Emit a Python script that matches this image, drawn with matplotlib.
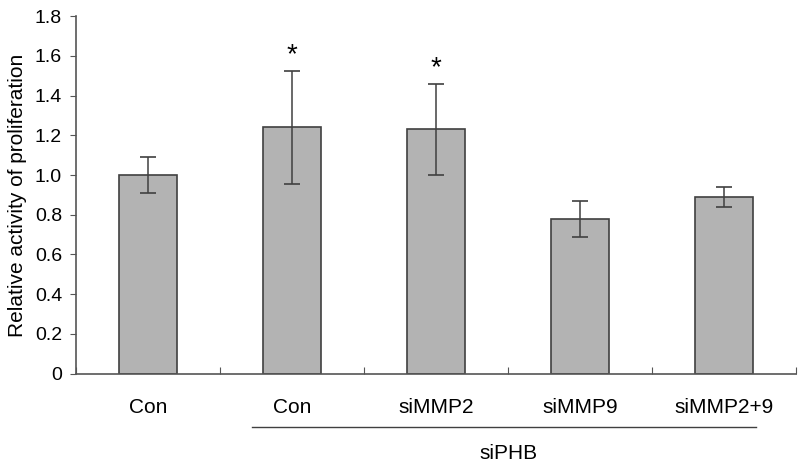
import matplotlib.pyplot as plt
import numpy as np

# data
labels = ['Con', 'Con', 'siMMP2', 'siMMP9', 'siMMP2+9']
values = [1.00, 1.24, 1.23, 0.78, 0.89]
errors = [0.09, 0.285, 0.23, 0.09, 0.05]
stars = ['', '*', '*', '', '']
group_label = 'siPHB'

plt.rcParams['font.family'] = ['Liberation Sans', 'DejaVu Sans']

fig = plt.figure(figsize=(8, 4.67), dpi=100)
ax = fig.add_axes([0.095, 0.1997, 0.9, 0.766])

axis_col = '#555555'
x = np.arange(len(values))
ax.bar(x, values, width=0.4, color='#b3b3b3', edgecolor='#404040', linewidth=1.2, zorder=2)
ax.errorbar(x, values, yerr=errors, fmt='none', ecolor='#404040', elinewidth=1.1,
            capsize=6, capthick=1.2, zorder=3)

# significance marks
for xi, v, e, s in zip(x, values, errors, stars):
    if s:
        ax.text(xi, v + e + 0.01, s, ha='center', va='bottom', fontsize=20)

ax.set_xlim(-0.5, len(values) - 0.5)
ax.set_ylim(0, 1.8)
ax.set_yticks(np.arange(0, 1.81, 0.2))
ax.set_yticklabels(['0'] + ['{:.1f}'.format(t) for t in np.arange(0.2, 1.81, 0.2)])

# x ticks at category boundaries, pointing inward
ax.set_xticks(np.arange(-0.5, len(values)))
ax.set_xticklabels([])
ax.tick_params(axis='x', direction='in', length=5, color=axis_col)
ax.tick_params(axis='y', direction='out', length=4, color=axis_col, labelsize=14, pad=6)
for xi, lab in zip(x, labels):
    ax.text(xi, -0.17, lab, ha='center', va='center', fontsize=15)

for side in ['top', 'right']:
    ax.spines[side].set_visible(False)
for side in ['left', 'bottom']:
    ax.spines[side].set_color(axis_col)
    ax.spines[side].set_linewidth(1.2)

# group line and label under the siPHB bars
ax.plot([0.72, 4.22], [-0.27, -0.27], color='#404040', linewidth=1, clip_on=False)
ax.text(2.5, -0.4, group_label, ha='center', va='center', fontsize=15)

ax.set_ylabel('Relative activity of proliferation', fontsize=15, labelpad=6)

fig.savefig('out.png', dpi=100)
